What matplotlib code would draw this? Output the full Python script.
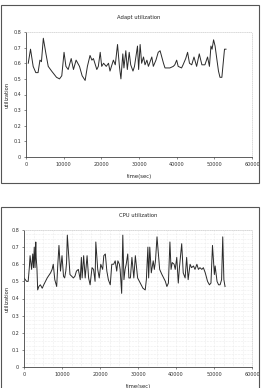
import matplotlib.pyplot as plt
from matplotlib.patches import Rectangle

# Adapt utilization (top chart)
adapt_t = [600, 1200, 1900, 2600, 3200, 3700, 4100, 4600, 5300, 5900, 6800, 8100,
           8900, 9500, 10100, 10600, 11200, 12000, 12600, 13300, 14200, 14900,
           15700, 16300, 17000, 17500, 17900, 18800, 19200, 19700, 20100, 20600,
           21300, 21900, 22300, 23200, 23700, 24300, 24800, 25200, 25700, 26000,
           26500, 26900, 27400, 27800, 28400, 28800, 29600, 29900, 30300, 30700,
           31200, 31600, 32100, 32500, 33400, 33800, 34500, 35100, 35600, 36500,
           36900, 38200, 39100, 39500, 40000, 40400, 41300, 41700, 42400, 42900,
           43400, 44000, 44600, 45300, 46000, 46700, 47500, 48200, 48700, 49100,
           49400, 49800, 50200, 50700, 51100, 51500, 52000, 52700, 53100]
adapt_u = [0.60, 0.69, 0.58, 0.54, 0.54, 0.62, 0.61, 0.76, 0.66, 0.58, 0.55, 0.51,
           0.50, 0.52, 0.67, 0.58, 0.56, 0.63, 0.56, 0.62, 0.58, 0.52,
           0.49, 0.58, 0.65, 0.62, 0.63, 0.56, 0.58, 0.67, 0.58, 0.60,
           0.58, 0.60, 0.55, 0.62, 0.59, 0.72, 0.58, 0.50, 0.66, 0.57,
           0.68, 0.56, 0.67, 0.59, 0.55, 0.58, 0.71, 0.56, 0.72, 0.60,
           0.64, 0.59, 0.62, 0.58, 0.64, 0.58, 0.62, 0.67, 0.68, 0.60,
           0.57, 0.57, 0.58, 0.59, 0.62, 0.58, 0.57, 0.59, 0.63, 0.67,
           0.60, 0.59, 0.64, 0.58, 0.66, 0.59, 0.59, 0.64, 0.58, 0.71,
           0.69, 0.75, 0.71, 0.62, 0.55, 0.51, 0.51, 0.69, 0.69]

# CPU utilization (bottom chart)
cpu_t = [0, 700, 1100, 1400, 1600, 2000, 2300, 2500, 2700, 2900, 3100, 3200,
         3400, 3600, 3900, 4300, 4800, 5200, 6100, 7000, 7400, 7700, 8100, 8600,
         8900, 9200, 9600, 10000, 10400, 10700, 11000, 11200, 11400, 12100, 13000,
         13400, 13800, 14300, 14800, 15100, 15300, 15700, 16100, 16600, 17000,
         17400, 17900, 18300, 18700, 18900, 19400, 19800, 20200, 20700, 21000,
         21400, 21800, 22200, 22700, 23100, 23600, 24000, 24400, 24700, 25100,
         25300, 25700, 26000, 26300, 26600, 26900, 27300, 27600, 28000, 28400,
         28900, 29300, 29900, 30600, 31300, 31900, 32200, 32600, 32800, 33100,
         33500, 34000, 34300, 34600, 35000, 35700, 36300, 37200, 37600, 38000,
         38400, 38700, 39000, 39500, 39800, 40200, 40600, 40900, 41500, 41900,
         42400, 42800, 43200, 43700, 44100, 44600, 45000, 45500, 45900, 46300,
         46800, 47200, 47700, 48300, 48800, 49200, 49600, 50100, 50300, 50800,
         51200, 51600, 52000, 52300, 52600, 52900]
cpu_u = [0.52, 0.50, 0.50, 0.58, 0.65, 0.57, 0.66, 0.58, 0.70, 0.58, 0.73, 0.64,
         0.58, 0.45, 0.47, 0.48, 0.46, 0.48, 0.52, 0.55, 0.57, 0.60, 0.51, 0.47,
         0.60, 0.71, 0.56, 0.65, 0.53, 0.52, 0.56, 0.61, 0.77, 0.54, 0.52,
         0.53, 0.56, 0.57, 0.51, 0.64, 0.52, 0.65, 0.52, 0.65, 0.52,
         0.48, 0.58, 0.57, 0.50, 0.73, 0.57, 0.52, 0.60, 0.57, 0.65,
         0.66, 0.56, 0.51, 0.48, 0.60, 0.60, 0.62, 0.56, 0.62, 0.60,
         0.57, 0.43, 0.77, 0.51, 0.57, 0.60, 0.66, 0.52, 0.52, 0.64,
         0.52, 0.65, 0.52, 0.49, 0.46, 0.45, 0.51, 0.70, 0.52, 0.70,
         0.55, 0.62, 0.57, 0.62, 0.76, 0.57, 0.54, 0.50, 0.47, 0.49,
         0.73, 0.57, 0.61, 0.60, 0.57, 0.64, 0.49, 0.58, 0.72, 0.55,
         0.52, 0.64, 0.51, 0.60, 0.58, 0.59, 0.57, 0.60, 0.57, 0.58,
         0.57, 0.58, 0.55, 0.50, 0.48, 0.49, 0.71, 0.54, 0.59, 0.50,
         0.48, 0.48, 0.51, 0.76, 0.51, 0.47]

y_ticks = [0, 0.1, 0.2, 0.3, 0.4, 0.5, 0.6, 0.7, 0.8]
y_labels = ["0", "0.1", "0.2", "0.3", "0.4", "0.5", "0.6", "0.7", "0.8"]
x_ticks = [0, 10000, 20000, 30000, 40000, 50000, 60000]

W, H = 261, 388
fig = plt.figure(figsize=(W / 100, H / 100), dpi=100)


def px(l, t, r, b):
    # pixel box -> figure fraction [left, bottom, width, height]
    return [l / W, 1 - b / H, (r - l) / W, (b - t) / H]


# chart area frames (Excel-style)
fig.patches.append(Rectangle((1 / W, 1 - 183 / H), 258 / W, 178 / H, transform=fig.transFigure,
                             fill=False, edgecolor="#555555", linewidth=0.8))
fig.patches.append(Rectangle((1 / W, -0.01), 258 / W, 1.01 - 207 / H, transform=fig.transFigure,
                             fill=False, edgecolor="#555555", linewidth=0.8))


def style(ax, t, u, title, grid, ylab_x):
    ax.plot(t, u, color="#2a2a2a", linewidth=0.7)
    ax.set_xlim(0, 60000)
    ax.set_ylim(0, 0.8)
    ax.set_yticks(y_ticks)
    ax.set_yticklabels(y_labels)
    ax.set_xticks(x_ticks)
    ax.tick_params(labelsize=3.5, length=1.5, width=0.4, pad=2, colors="#333333")
    for s in ["left", "bottom"]:
        ax.spines[s].set_color("#444444")
        ax.spines[s].set_linewidth(0.6)
    for s in ["top", "right"]:
        ax.spines[s].set_color("#cccccc")
        ax.spines[s].set_linewidth(0.5)
        ax.spines[s].set_linestyle(":")
    if grid:
        ax.set_xticks(range(0, 60001, 2500), minor=True)
        ax.set_yticks([i * 0.025 for i in range(33)], minor=True)
        ax.tick_params(which="minor", length=0)
        ax.grid(True, which="both", color="#dddddd", linestyle=":", linewidth=0.4)
        ax.set_axisbelow(True)
    ax.set_title(title, fontsize=3.8, pad=9, color="#222222")
    ax.set_xlabel("time(sec)", fontsize=3.8, labelpad=5, color="#222222")
    ax.set_ylabel("utilization", fontsize=3.8, color="#222222")
    ax.yaxis.set_label_coords(ylab_x, 0.5)


ax1 = fig.add_axes(px(26, 32, 252, 157))
style(ax1, adapt_t, adapt_u, "Adapt utilization", False, -0.075)

ax2 = fig.add_axes(px(24, 230, 252, 367))
style(ax2, cpu_t, cpu_u, "CPU utilization", True, -0.065)

fig.savefig("out.png", dpi=100)
